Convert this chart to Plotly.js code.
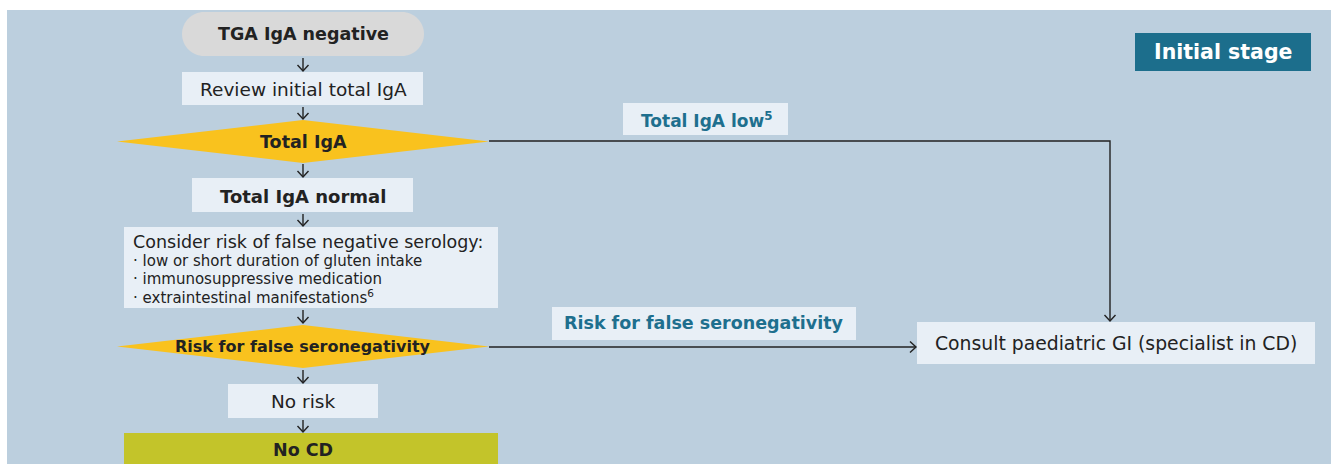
<!DOCTYPE html>
<html><head><meta charset="utf-8">
<script src="https://cdn.plot.ly/plotly-3.0.1.min.js"></script>
<style>html,body{margin:0;padding:0;background:#fff}#chart{width:1338px;height:464px}</style>
</head><body><div id="chart"></div>
<script>
// ---- content (texts) ----
const startLabel = "TGA IgA negative";
const reviewLabel = "Review initial total IgA";
const decision1Label = "Total IgA";
const normalLabel = "Total IgA normal";
const considerTitle = "Consider risk of false negative serology:";
const considerItems = ["· low or short duration of gluten intake", "· immunosuppressive medication", "· extraintestinal manifestations<sup>6</sup>"];
const decision2Label = "Risk for false seronegativity";
const noRiskLabel = "No risk";
const noCDLabel = "No CD";
const lowLabel = "Total IgA low<sup>5</sup>";
const riskBranchLabel = "Risk for false seronegativity";
const consultLabel = "Consult paediatric GI (specialist in CD)";
const stageLabel = "Initial stage";

// ---- layout geometry (pixels) ----
const FONT = "DejaVu Sans, sans-serif";
const DARK = "#222222", TEAL = "#1e6f8e", PALE = "#e8eff6", BG = "#bccfde";
const shapes = [], ann = [];
function rect(x0,y0,x1,y1,fill){shapes.push({type:'rect',xref:'x',yref:'y',x0,y0,x1,y1,fillcolor:fill,line:{width:0},layer:'below'});}
function path(d,fill,lc,lw){shapes.push({type:'path',xref:'x',yref:'y',path:d,fillcolor:fill||'rgba(0,0,0,0)',line:{color:lc||'rgba(0,0,0,0)',width:lw||0}});}
function text(x,y,t,size,color,bold,anchor){ann.push({x,y,xref:'x',yref:'y',text:bold?'<b>'+t+'</b>':t,showarrow:false,xanchor:anchor||'center',yanchor:'middle',font:{family:FONT,size,color}});}
function arrowDown(x,y0,y1){path(`M${x},${y0} L${x},${y1}`,null,DARK,1.4);path(`M${x-5.5},${y1-6} L${x},${y1} L${x+5.5},${y1-6}`,null,DARK,1.4);}
function arrowRight(x0,x1,y){path(`M${x0},${y} L${x1},${y}`,null,DARK,1.4);path(`M${x1-6},${y-5.5} L${x1},${y} L${x1-6},${y+5.5}`,null,DARK,1.4);}

// background panel
rect(7,10,1331,464,BG);
// start pill (rounded ends with cubic curves)
const k = 22*0.5523;
path(`M204,12 L402,12 C${402+k},12 424,${34-k} 424,34 C424,${34+k} ${402+k},56 402,56 L204,56 C${204-k},56 182,${34+k} 182,34 C182,${34-k} ${204-k},12 204,12 Z`,"#d9d9d9");
text(303,34,startLabel,17.5,DARK,true);
arrowDown(303,58,71);
rect(182,72,423,105,PALE);
text(303,89,reviewLabel,18.5,DARK,false);
arrowDown(303,107,119);
// diamond 1
path("M117,141.5 L303,120 L489,141.5 L303,163 Z","#f9c21e");
text(303,142,decision1Label,17.5,DARK,true);
arrowDown(303,164,177);
rect(192,178,413,212,PALE);
text(303,196,normalLabel,18,DARK,true);
arrowDown(303,214,226);
rect(124,227,498,308,PALE);
text(131,242,considerTitle,17.5,DARK,false,'left');
considerItems.forEach((t,i)=>text(131,261+i*18,t,15,DARK,false,'left'));
arrowDown(303,310,323);
// diamond 2
path("M117,346.5 L303,325 L489,346.5 L303,368 Z","#f9c21e");
text(303,346,decision2Label,16,DARK,true);
arrowDown(303,370,383);
rect(228,384,378,418,PALE);
text(303,401,noRiskLabel,18.5,DARK,false);
arrowDown(303,420,432);
rect(124,433,498,470,"#c3c42a");
text(303,450,noCDLabel,17.5,DARK,true);
// branch 1
path("M489,141 L1110,141 L1110,321",null,DARK,1.4);
path("M1104.5,315 L1110,321 L1115.5,315",null,DARK,1.4);
rect(623,103,788,135,PALE);
text(706,120,lowLabel,17,TEAL,true);
// branch 2
arrowRight(489,916,347);
rect(552,307,856,340,PALE);
text(704,323,riskBranchLabel,17.5,TEAL,true);
rect(917,322,1315,364,PALE);
text(1116,343,consultLabel,18.8,DARK,false);
// stage tag
rect(1135,33,1311,71,"#1c6e8c");
text(1223,52,stageLabel,20.5,"#ffffff",true);

Plotly.newPlot('chart',[{x:[0],y:[0],mode:'markers',marker:{opacity:0},hoverinfo:'skip',showlegend:false}],{
  width:1338,height:464,margin:{l:0,r:0,t:0,b:0},paper_bgcolor:'#ffffff',plot_bgcolor:'#ffffff',
  xaxis:{range:[0,1338],visible:false,fixedrange:true},
  yaxis:{range:[464,0],visible:false,fixedrange:true},
  shapes,annotations:ann,showlegend:false
},{staticPlot:true});
</script></body></html>
